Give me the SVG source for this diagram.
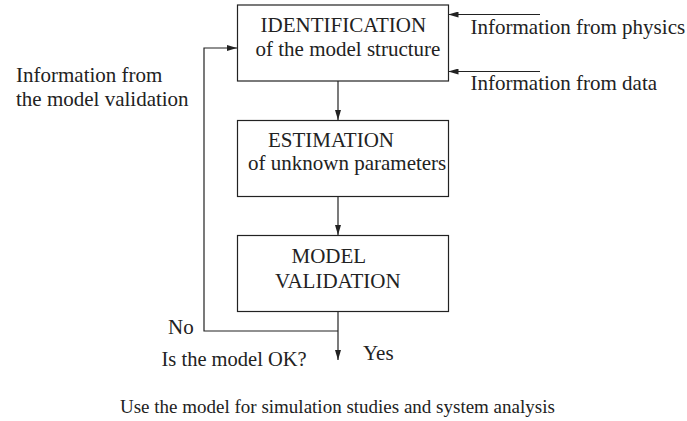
<svg xmlns="http://www.w3.org/2000/svg" width="687" height="421" viewBox="0 0 687 421">
<style>
text{font-family:'Liberation Serif',Tinos,'Times New Roman','DejaVu Serif',serif;font-size:21px;fill:#222}
.small{font-size:19px}
.box{fill:#fff;stroke:#222;stroke-width:1.2}
.ln{fill:none;stroke:#222;stroke-width:1.2}
</style>
<defs>
<marker id="ah" viewBox="0 0 10 6" refX="10" refY="3" markerWidth="10" markerHeight="6" markerUnits="userSpaceOnUse" orient="auto">
<path d="M0,0 L10,3 L0,6 z" fill="#222"/>
</marker>
</defs>
<rect width="687" height="421" fill="#fff"/>
<g id="connectors">
<line class="ln" x1="540" y1="14.5" x2="448.5" y2="14.5" marker-end="url(#ah)"/>
<line class="ln" x1="540" y1="71.5" x2="448.5" y2="71.5" marker-end="url(#ah)"/>
<line class="ln" x1="338" y1="81" x2="338" y2="120" marker-end="url(#ah)"/>
<line class="ln" x1="338" y1="197" x2="338" y2="235" marker-end="url(#ah)"/>
<line class="ln" x1="338" y1="312" x2="338" y2="360" marker-end="url(#ah)"/>
<polyline class="ln" points="338,331 204,331 204,48 237,48" marker-end="url(#ah)"/>
</g>
<g font-family="Liberation Serif, serif">
<g id="identification">
<rect class="box" x="237.5" y="5" width="211" height="76"/>
<text x="260.5" y="32">IDENTIFICATION</text>
<text x="255.5" y="56">of the model structure</text>
</g>
<g id="estimation">
<rect class="box" x="237.5" y="120.5" width="211" height="76"/>
<text x="268" y="147">ESTIMATION</text>
<text x="248" y="170">of unknown parameters</text>
</g>
<g id="validation">
<rect class="box" x="237.5" y="235.5" width="211" height="76"/>
<text x="291.5" y="263">MODEL</text>
<text x="275" y="288">VALIDATION</text>
</g>
<g id="labels">
<text x="470.5" y="34">Information from physics</text>
<text x="470.5" y="90">Information from data</text>
<text x="16" y="82">Information from</text>
<text x="16" y="106">the model validation</text>
<text x="168" y="334">No</text>
<text x="161.5" y="366" style="font-size:20.5px">Is the model OK?</text>
<text x="363" y="360">Yes</text>
<text class="small" x="120" y="413">Use the model for simulation studies and system analysis</text>
</g>
</g>
</svg>
